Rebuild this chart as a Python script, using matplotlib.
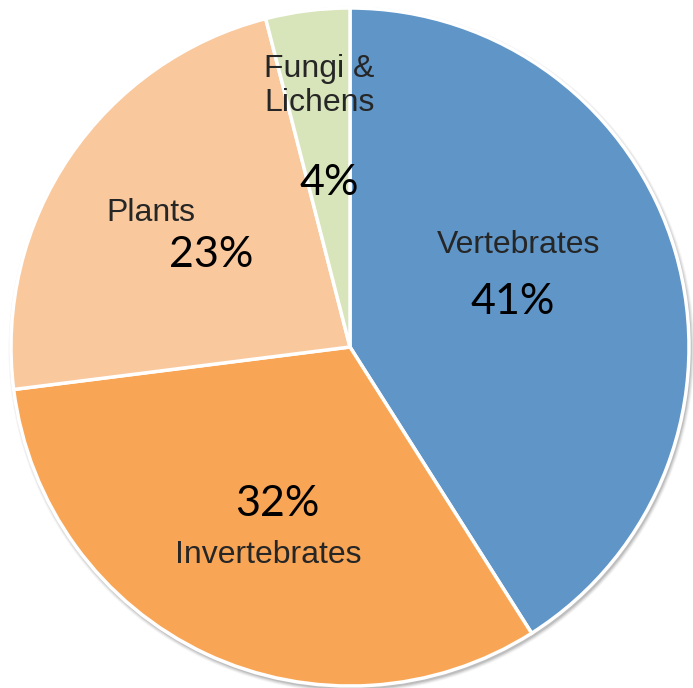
import matplotlib
matplotlib.use("Agg")
import matplotlib.pyplot as plt
from matplotlib.patches import Circle

categories = ["Vertebrates", "Invertebrates", "Plants", "Fungi &\nLichens"]
values = [41, 32, 23, 4]
pct_labels = ["41%", "32%", "23%", "4%"]
colors = ["#5F95C7", "#F8A656", "#F9C89D", "#D8E4BA"]

W, H = 693, 688
fig = plt.figure(figsize=(W / 100, H / 100), dpi=100)
ax = fig.add_axes([0, 0, 1, 1])

cx, cy, r = 350, 347, 339

# soft shadow
for i, a in enumerate([0.10, 0.08, 0.06, 0.04]):
    ax.add_patch(Circle((cx + 1.5, cy + 2.5), r + 1 + i, color="#000000", alpha=a, lw=0, zorder=0))

# y axis is inverted (pixel coords), so counterclockwise in data = clockwise on screen
ax.pie(values, colors=colors, startangle=-90, counterclock=True,
       center=(cx, cy), radius=r, frame=True,
       wedgeprops=dict(edgecolor="white", linewidth=2.5))
ax.set_xlim(0, W)
ax.set_ylim(H, 0)
ax.set_aspect("equal")
ax.axis("off")

lab_font = dict(family=["Liberation Sans", "DejaVu Sans"], fontsize=23, color="#262626")
pct_font = dict(family=["Lato", "DejaVu Sans"], fontsize=31, color="#000000")

label_pos = [(519, 245, "center"), (268, 555, "center"), (106, 213, "left"), (264, 86, "left")]
pct_pos = [(513, 302), (277, 504), (211, 255), (329, 183)]

for (x, y, ha), lab in zip(label_pos, categories):
    ax.text(x, y, lab, ha=ha, va="center", linespacing=1.2, **lab_font)
for (x, y), p in zip(pct_pos, pct_labels):
    ax.text(x, y, p, ha="center", va="center", **pct_font)

fig.savefig("out.png", dpi=100)
